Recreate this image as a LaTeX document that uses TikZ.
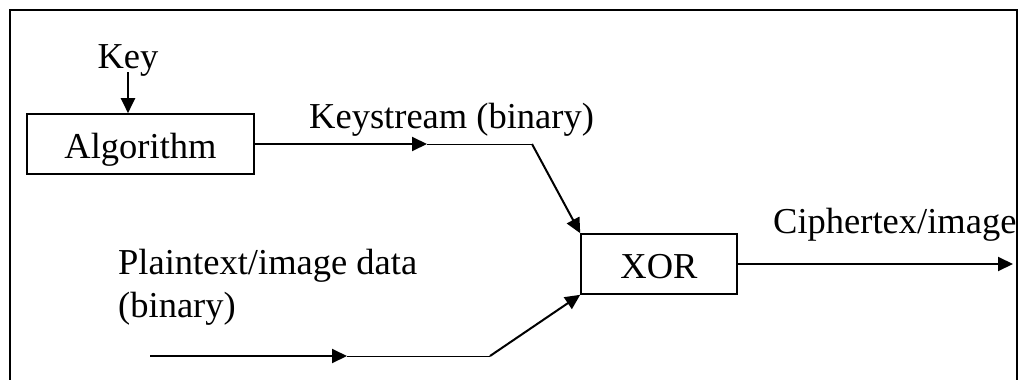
\documentclass[tikz,border=0pt]{standalone}
\usepackage{fontspec}
\setmainfont{Liberation Serif}
\usetikzlibrary{arrows.meta}
\begin{document}
\begin{tikzpicture}[x=1pt,y=-1pt,
  lbl/.style={inner sep=0pt, font=\fontsize{36.5}{43}\selectfont},
  boxn/.style={draw, line width=1.6pt, inner sep=0pt, minimum height=60pt,
    text height=29pt, text depth=0pt, font=\fontsize{36.5}{43}\selectfont},
  arr/.style={line width=2pt, -{Triangle[length=15pt,width=14pt]}},
  thinl/.style={line width=1pt},
  frame/.style={line width=2pt}]
\useasboundingbox (0,0) rectangle (1026,380);
\draw[frame] (10,382) -- (10,10) -- (1017,10) -- (1017,382);
% nodes
\node[boxn, minimum width=227pt] (alg) at (140.5,144) {Algorithm};
\node[boxn, minimum width=156pt] (xor) at (659,264) {XOR};
\node[lbl, anchor=base] (key) at (128,68) {Key};
\node[lbl, anchor=base west] (ks) at (309,128) {Keystream (binary)};
\node[lbl, anchor=base west] (ct) at (773,233) {Ciphertex/image};
\node[lbl, anchor=base west, align=left] (pt) at (118,317) {Plaintext/image data\\(binary)};
% coordinates
\coordinate (k1) at (427,144);
\coordinate (k2) at (532,144);
\coordinate (p0) at (150,356);
\coordinate (p1) at (347,356);
\coordinate (p2) at (490,356);
\coordinate (out) at (1013,264);
% connectors
\draw[arr] ([yshift=4pt]key.south) -- (key.south |- alg.north);
\draw[arr] (alg.east) -- (k1);
\draw[thinl] (k1) -- (k2);
\draw[arr] (k2) -- (xor.north west);
\draw[arr] (p0) -- (p1);
\draw[thinl] (p1) -- (p2);
\draw[arr] (p2) -- (xor.south west);
\draw[arr] (xor.east) -- (out);
\end{tikzpicture}
\end{document}
